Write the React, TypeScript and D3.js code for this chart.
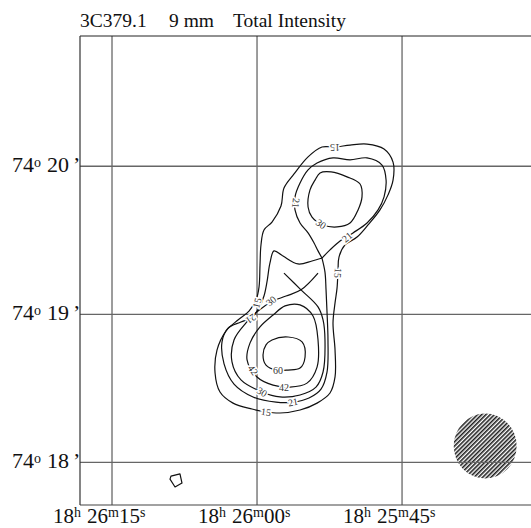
import React from "react";
import * as d3 from "d3";

// 3C379.1 total intensity at 9 mm.
// Positions: RA offset in seconds of time from 18h26m00s, Dec offset in arcsec from +74°19'00".

const W = 531;
const H = 528;

const raExtent: [number, number] = [18.31, -28.34];
const decExtent: [number, number] = [-77.3, 112.8];

const raTicks = [15, 0, -15];
const raTickLabels = [
  ["18", "26", "15"],
  ["18", "26", "00"],
  ["18", "25", "45"],
];
const decTicks = [60, 0, -60];
const decTickLabels = [
  ["74", "20"],
  ["74", "19"],
  ["74", "18"],
];

const titleParts = ["3C379.1", "9 mm", "Total Intensity"];

// Contour levels (mJy/beam)
const contour15: [number, number][] = [
  [-0.83, -39.5], [-2.38, -40.0], [-4.45, -38.8], [-6.21, -36.0], [-7.55, -31.9],
  [-8.07, -25.4], [-8.07, -14.5], [-7.86, -3.5], [-8.07, 4.6], [-8.28, 10.7],
  [-8.38, 18.0], [-8.48, 23.2], [-9.1, 28.1], [-10.35, 31.3], [-11.48, 36.2],
  [-12.72, 42.3], [-13.55, 48.4], [-14.07, 54.4], [-14.07, 61.7], [-13.14, 67.0],
  [-11.38, 69.0], [-9.62, 68.6], [-8.07, 67.8], [-6.72, 67.8], [-5.28, 63.8],
  [-3.83, 56.9], [-2.79, 51.2], [-2.48, 43.9], [-1.55, 37.4], [-0.72, 34.2],
  [-0.41, 28.1], [-0.31, 20.0], [-0.21, 11.1], [0.1, 5.8], [0.83, 1.3],
  [1.97, -2.3], [3.21, -6.8], [4.14, -14.5], [4.34, -23.8], [3.83, -31.5],
  [2.48, -36.0], [0.52, -38.4],
];

// Isolated faint spot at the lowest level
const contour15Spot: [number, number][] = [
  [8.9, -65.6], [7.97, -64.7], [7.76, -68.4], [8.48, -70.0], [9.0, -66.8],
];

const contour21North: [number, number][] = [
  [-6.72, 22.8], [-6.31, 25.7], [-5.9, 28.9], [-5.28, 33.0], [-4.45, 37.0],
  [-3.93, 42.3], [-3.93, 47.6], [-4.45, 53.2], [-5.28, 58.5], [-6.21, 61.3],
  [-7.86, 63.4], [-9.62, 62.6], [-11.38, 63.4], [-12.93, 60.5], [-13.35, 54.4],
  [-13.14, 47.6], [-12.52, 42.3], [-11.38, 37.0], [-9.93, 33.0], [-8.59, 29.7],
  [-7.55, 26.1], [-6.72, 22.8],
];

const contour21South: [number, number][] = [
  [-6.72, 22.8], [-7.03, 17.1], [-7.14, 9.9], [-7.24, 0.9], [-7.34, -10.4],
  [-7.24, -23.4], [-6.62, -30.3], [-5.38, -33.9], [-3.72, -35.6], [-1.97, -35.6],
  [0.41, -33.5], [2.38, -28.3], [3.41, -20.1], [3.62, -11.2], [3.0, -5.6],
  [1.66, -3.1], [0.52, -1.1], [-0.21, 2.6], [-0.72, 7.4], [-1.03, 13.1],
  [-1.34, 20.8], [-1.76, 25.7], [-2.69, 23.6], [-4.24, 20.4], [-5.69, 21.6],
  [-6.72, 22.8],
];

const contour30North: [number, number][] = [
  [-6.52, 57.3], [-7.66, 57.7], [-9.31, 55.7], [-10.66, 52.8], [-10.86, 47.6],
  [-10.45, 42.3], [-9.62, 37.0], [-8.28, 35.4], [-6.83, 36.2], [-5.69, 39.4],
  [-5.28, 43.5], [-5.48, 50.4], [-6.0, 54.4],
];

const contour30South: [number, number][] = [
  [-2.79, 16.7], [-4.55, 9.9], [-6.31, 3.0], [-6.83, -2.3], [-7.03, -10.4],
  [-6.83, -23.4], [-6.1, -29.5], [-4.45, -32.7], [-2.38, -33.5], [-0.52, -31.5],
  [1.66, -26.6], [2.59, -19.3], [2.38, -10.4], [1.14, -3.5], [-0.1, 1.3],
  [-1.45, 5.0], [-3.0, 7.4], [-4.55, 9.9], [-6.31, 16.7],
];

const contour42: [number, number][] = [
  [-2.9, 3.4], [-4.45, 3.8], [-5.79, -0.7], [-6.31, -10.4], [-6.21, -21.4],
  [-5.17, -27.9], [-3.41, -29.5], [-1.66, -28.7], [0.0, -25.4], [1.03, -18.5],
  [0.72, -11.6], [-0.31, -5.1], [-1.66, -0.3],
];

const contour60: [number, number][] = [
  [-1.55, -10.4], [-3.21, -9.2], [-4.66, -11.2], [-4.97, -17.3], [-4.45, -21.8],
  [-3.21, -22.6], [-1.97, -22.6], [-0.93, -20.6], [-0.62, -16.5], [-0.93, -12.4],
];

const contours = [
  { level: 15, points: contour15, kind: "closed" },
  { level: 15, points: contour15Spot, kind: "polygon" },
  { level: 21, points: contour21North, kind: "open" },
  { level: 21, points: contour21South, kind: "open" },
  { level: 30, points: contour30North, kind: "closed" },
  { level: 30, points: contour30South, kind: "open" },
  { level: 42, points: contour42, kind: "closed" },
  { level: 60, points: contour60, kind: "closed" },
];

const contourLabels = [
  { level: 15, ra: -8.07, dec: 67.8, angle: 180 },
  { level: 21, ra: -4.03, dec: 45.1, angle: 95 },
  { level: 30, ra: -6.62, dec: 36.6, angle: 35 },
  { level: 21, ra: -9.31, dec: 31.3, angle: -40 },
  { level: 15, ra: -8.38, dec: 16.7, angle: 95 },
  { level: 15, ra: 0.0, dec: 4.6, angle: -75 },
  { level: 21, ra: 0.62, dec: -1.9, angle: 145 },
  { level: 30, ra: -1.45, dec: 5.4, angle: -40 },
  { level: 42, ra: 0.41, dec: -22.6, angle: 55 },
  { level: 60, ra: -2.17, dec: -22.6, angle: 0 },
  { level: 42, ra: -2.79, dec: -29.5, angle: 0 },
  { level: 30, ra: -0.52, dec: -31.5, angle: 30 },
  { level: 21, ra: -3.72, dec: -35.6, angle: -10 },
  { level: 15, ra: -0.93, dec: -39.6, angle: 8 },
];

// Restoring beam (circular, FWHM in arcsec)
const beamCenter = [-23.6, -53.4];
const beamFwhm = 26.4;
const decDeg = 74.32;

export default function App() {
  const x = d3.scaleLinear().domain(raExtent).range([80, W]);
  const y = d3.scaleLinear().domain(decExtent).range([505, 36]);

  const makeLine = (curve: d3.CurveFactory) =>
    d3
      .line<[number, number]>()
      .x((d) => x(d[0]))
      .y((d) => y(d[1]))
      .curve(curve);
  const lines: Record<string, d3.Line<[number, number]>> = {
    open: makeLine(d3.curveCatmullRom.alpha(0.5)),
    closed: makeLine(d3.curveCatmullRomClosed.alpha(0.5)),
    polygon: makeLine(d3.curveLinearClosed),
  };

  const beamRaSec = beamFwhm / 2 / (15 * Math.cos((decDeg * Math.PI) / 180));
  const bx = x(beamCenter[0]);
  const by = y(beamCenter[1]);
  const brx = Math.abs(x(beamCenter[0] + beamRaSec) - bx);
  const bry = Math.abs(y(beamCenter[1] + beamFwhm / 2) - by);

  const serif = "'Liberation Serif', 'Times New Roman', serif";
  const x0 = x(raExtent[0]);
  const x1 = x(raExtent[1]);
  const y0 = y(decExtent[1]);
  const y1 = y(decExtent[0]);

  return (
    <svg
      width={W}
      height={H}
      style={{ position: "absolute", left: 0, top: 0, background: "#fff" }}
      fontFamily={serif}
    >
      <defs>
        <pattern
          id="beamHatch"
          patternUnits="userSpaceOnUse"
          width={3}
          height={3}
          patternTransform="rotate(45)"
        >
          <rect width={3} height={3} fill="#fff" />
          <line x1={0.8} y1={0} x2={0.8} y2={3} stroke="#111" strokeWidth={1.5} />
        </pattern>
      </defs>

      <text x={80} y={27} fontSize={19.5} fill="#111">{titleParts[0]}</text>
      <text x={169} y={27} fontSize={19.5} fill="#111">{titleParts[1]}</text>
      <text x={233} y={27} fontSize={19.5} fill="#111">{titleParts[2]}</text>

      <ellipse cx={bx} cy={by} rx={brx} ry={bry} fill="url(#beamHatch)" />

      {raTicks.map((t) => (
        <line key={"gx" + t} x1={x(t)} x2={x(t)} y1={y0} y2={y1} stroke="#3a3a3a" strokeWidth={1} />
      ))}
      {decTicks.map((t) => (
        <line key={"gy" + t} x1={x0} x2={x1} y1={y(t)} y2={y(t)} stroke="#666" strokeWidth={1.3} />
      ))}

      <line x1={x0} x2={x1} y1={y0} y2={y0} stroke="#222" strokeWidth={1} />
      <line x1={x0} x2={x1} y1={y1} y2={y1} stroke="#444" strokeWidth={1.2} />
      <line x1={x0} x2={x0} y1={y0} y2={y1} stroke="#333" strokeWidth={1.2} />

      {contours.map((c, i) => (
        <path
          key={"c" + i}
          d={lines[c.kind](c.points as [number, number][]) || ""}
          fill="none"
          stroke="#111"
          strokeWidth={1.2}
          strokeLinejoin="round"
        />
      ))}

      {contourLabels.map((l, i) => (
        <text
          key={"l" + i}
          transform={`translate(${x(l.ra)},${y(l.dec)}) rotate(${l.angle})`}
          textAnchor="middle"
          dominantBaseline="central"
          fontSize={10}
          fill="#333"
          stroke="#fff"
          strokeWidth={3}
          paintOrder="stroke"
        >
          {l.level}
        </text>
      ))}

      {decTicks.map((t, i) => {
        const [deg, min] = decTickLabels[i];
        return (
          <text key={"dl" + t} x={12} y={y(t) + 6} fill="#111" fontSize={22}>
            <tspan>{deg}</tspan>
            <tspan fontSize={14} dy={-5}>o</tspan>
            <tspan dx={6} dy={5}>{min}</tspan>
            <tspan dx={4}>’</tspan>
          </text>
        );
      })}

      {raTicks.map((t, i) => {
        const [h, m, s] = raTickLabels[i];
        return (
          <text key={"rl" + t} x={x(t) - 59} y={523} fill="#111" fontSize={21}>
            <tspan>{h}</tspan>
            <tspan fontSize={14} dy={-6}>h</tspan>
            <tspan dx={6} dy={6}>{m}</tspan>
            <tspan fontSize={14} dy={-6}>m</tspan>
            <tspan dy={6}>{s}</tspan>
            <tspan fontSize={14} dy={-6}>s</tspan>
          </text>
        );
      })}
    </svg>
  );
}
